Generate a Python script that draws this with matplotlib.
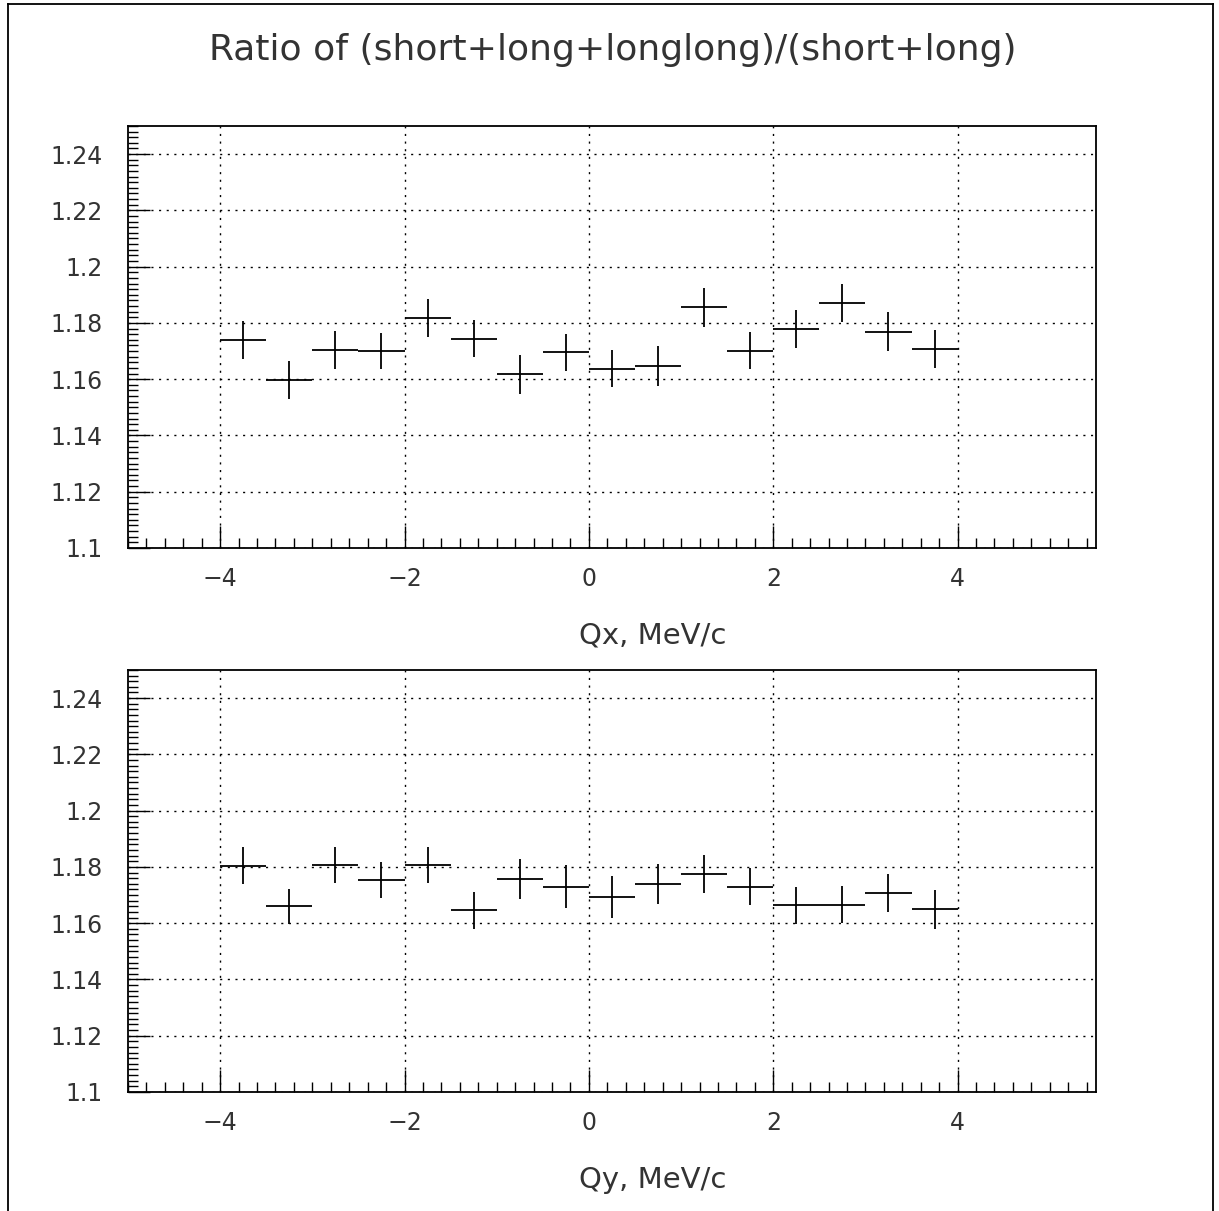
import matplotlib
matplotlib.use("Agg")
import matplotlib.pyplot as plt
from matplotlib.lines import Line2D
from matplotlib.ticker import MultipleLocator, FormatStrFormatter

# bin centres (MeV/c) and half bin width
q_centers = [-3.75, -3.25, -2.75, -2.25, -1.75, -1.25, -0.75, -0.25,
             0.25, 0.75, 1.25, 1.75, 2.25, 2.75, 3.25, 3.75]
q_halfwidth = 0.25

# ratio vs Qx
ratio_qx = [1.1738, 1.1597, 1.1704, 1.1700, 1.1817, 1.1744, 1.1618, 1.1695,
            1.1637, 1.1647, 1.1855, 1.1701, 1.1779, 1.1871, 1.1769, 1.1707]
err_qx = [0.0068, 0.0068, 0.0067, 0.0065, 0.0068, 0.0066, 0.0069, 0.0066,
          0.0066, 0.0070, 0.0068, 0.0066, 0.0068, 0.0069, 0.0068, 0.0069]

# ratio vs Qy
ratio_qy = [1.1804, 1.1660, 1.1807, 1.1754, 1.1807, 1.1646, 1.1757, 1.1730,
            1.1693, 1.1739, 1.1774, 1.1729, 1.1664, 1.1665, 1.1707, 1.1649]
err_qy = [0.0066, 0.0063, 0.0064, 0.0065, 0.0065, 0.0066, 0.0071, 0.0076,
          0.0076, 0.0072, 0.0068, 0.0066, 0.0066, 0.0066, 0.0068, 0.0070]

title = "Ratio of (short+long+longlong)/(short+long)"
xlabels = ["Qx, MeV/c", "Qy, MeV/c"]

txt = "#333333"
fig = plt.figure(figsize=(12.19, 12.11), dpi=100)

# outer frame (no bottom edge, like the original page)
for xs, ys in [([0.0066, 0.0066], [0.0, 0.9967]),
               ([0.9951, 0.9951], [0.0, 0.9967]),
               ([0.0066, 0.9951], [0.9967, 0.9967])]:
    fig.add_artist(Line2D(xs, ys, color="black", lw=1.3))

fig.text(0.503, 0.959, title, ha="center", va="center", fontsize=26, color=txt)

panels = [(0.5475, ratio_qx, err_qx, 0.4756), (0.0983, ratio_qy, err_qy, 0.0256)]
for (bottom, vals, errs, ly), lab in zip(panels, xlabels):
    ax = fig.add_axes([0.105, bottom, 0.794, 0.3485])
    ax.errorbar(q_centers, vals, xerr=q_halfwidth, yerr=errs, fmt="none",
                ecolor="black", elinewidth=1.3, capsize=0)
    ax.set_xlim(-5, 5.5)
    ax.set_ylim(1.1, 1.25)
    ax.xaxis.set_major_locator(MultipleLocator(2))
    ax.xaxis.set_minor_locator(MultipleLocator(0.2))
    ax.yaxis.set_major_locator(MultipleLocator(0.02))
    ax.yaxis.set_minor_locator(MultipleLocator(0.002))
    ax.yaxis.set_major_formatter(FormatStrFormatter("%g"))
    ax.tick_params(which="both", direction="in", top=False, right=False,
                   labelsize=17, labelcolor=txt, width=1.0)
    ax.tick_params(which="major", length=16)
    ax.tick_params(which="minor", length=7)
    ax.tick_params(axis="x", pad=14)
    ax.tick_params(axis="y", pad=18)
    ax.grid(True, which="major", color="black", linestyle=(0, (1.5, 4)), lw=1.0)
    for s in ax.spines.values():
        s.set_linewidth(1.3)
    fig.text(0.5357, ly, lab, ha="center", va="center", fontsize=21, color=txt)

fig.savefig("out.png", dpi=100)
